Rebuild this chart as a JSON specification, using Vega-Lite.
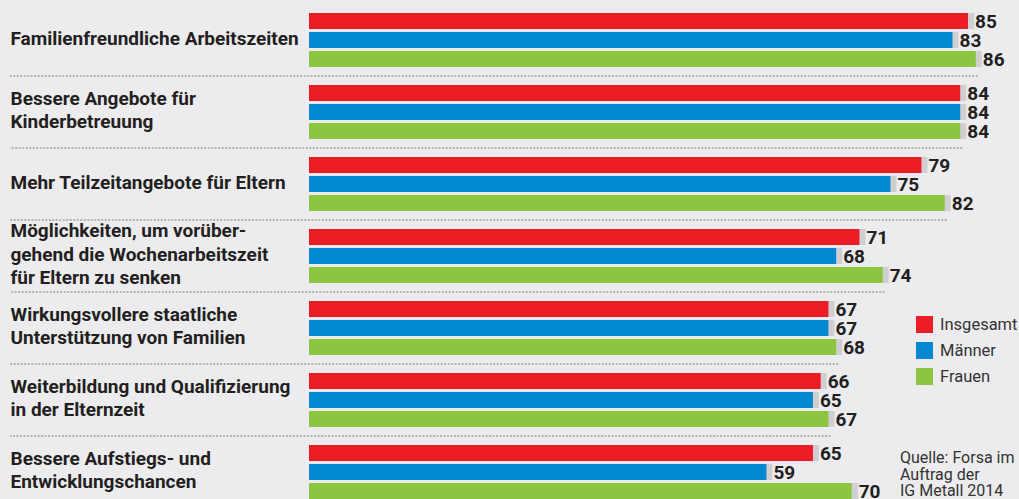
{
  "$schema": "https://vega.github.io/schema/vega-lite/v6.json",
  "autosize": "none",
  "padding": {"left": 309, "top": 4, "right": 0, "bottom": 0},
  "width": 710,
  "height": 495,
  "background": "#ececee",
  "config": {"view": {"stroke": null}, "font": "Roboto"},
  "datasets": {
    "main": [
      {"category": "Familienfreundliche Arbeitszeiten", "series": "Insgesamt", "value": 85},
      {"category": "Familienfreundliche Arbeitszeiten", "series": "Männer", "value": 83},
      {"category": "Familienfreundliche Arbeitszeiten", "series": "Frauen", "value": 86},
      {"category": "Bessere Angebote für|Kinderbetreuung", "series": "Insgesamt", "value": 84},
      {"category": "Bessere Angebote für|Kinderbetreuung", "series": "Männer", "value": 84},
      {"category": "Bessere Angebote für|Kinderbetreuung", "series": "Frauen", "value": 84},
      {"category": "Mehr Teilzeitangebote für Eltern", "series": "Insgesamt", "value": 79},
      {"category": "Mehr Teilzeitangebote für Eltern", "series": "Männer", "value": 75},
      {"category": "Mehr Teilzeitangebote für Eltern", "series": "Frauen", "value": 82},
      {"category": "Möglichkeiten, um vorüber-|gehend die Wochenarbeitszeit|für Eltern zu senken", "series": "Insgesamt", "value": 71},
      {"category": "Möglichkeiten, um vorüber-|gehend die Wochenarbeitszeit|für Eltern zu senken", "series": "Männer", "value": 68},
      {"category": "Möglichkeiten, um vorüber-|gehend die Wochenarbeitszeit|für Eltern zu senken", "series": "Frauen", "value": 74},
      {"category": "Wirkungsvollere staatliche|Unterstützung von Familien", "series": "Insgesamt", "value": 67},
      {"category": "Wirkungsvollere staatliche|Unterstützung von Familien", "series": "Männer", "value": 67},
      {"category": "Wirkungsvollere staatliche|Unterstützung von Familien", "series": "Frauen", "value": 68},
      {"category": "Weiterbildung und Qualifizierung|in der Elternzeit", "series": "Insgesamt", "value": 66},
      {"category": "Weiterbildung und Qualifizierung|in der Elternzeit", "series": "Männer", "value": 65},
      {"category": "Weiterbildung und Qualifizierung|in der Elternzeit", "series": "Frauen", "value": 67},
      {"category": "Bessere Aufstiegs- und|Entwicklungschancen", "series": "Insgesamt", "value": 65},
      {"category": "Bessere Aufstiegs- und|Entwicklungschancen", "series": "Männer", "value": 59},
      {"category": "Bessere Aufstiegs- und|Entwicklungschancen", "series": "Frauen", "value": 70}
    ],
    "note": [{"note": "Quelle: Forsa im\nAuftrag der\nIG Metall 2014", "category": "Bessere Aufstiegs- und|Entwicklungschancen", "pos": 76.23}]
  },
  "data": {"name": "main"},
  "layer": [
    {
      "transform": [{"aggregate": [{"op": "max", "field": "value", "as": "maxv"}], "groupby": ["category"]}],
      "mark": {"type": "rule", "xOffset": 2, "x2Offset": -299, "strokeDash": [2, 1.5], "strokeWidth": 2, "color": "#b3b3b5"},
      "encoding": {
        "y": {
          "field": "category", "type": "nominal", "bandPosition": 1,
          "scale": {
            "domain": ["Familienfreundliche Arbeitszeiten", "Bessere Angebote für|Kinderbetreuung", "Mehr Teilzeitangebote für Eltern", "Möglichkeiten, um vorüber-|gehend die Wochenarbeitszeit|für Eltern zu senken", "Wirkungsvollere staatliche|Unterstützung von Familien", "Weiterbildung und Qualifizierung|in der Elternzeit", "Bessere Aufstiegs- und|Entwicklungschancen"],
            "range": [0, 504], "paddingInner": 0, "paddingOuter": 0
          },
          "axis": {
            "title": null, "domain": false, "ticks": false, "grid": false,
            "labelPadding": 299, "labelAlign": "left", "labelBaseline": "middle",
            "labelFont": "Roboto", "labelFontSize": 19, "labelFontWeight": "bold", "labelColor": "#231f20",
            "labelLineHeight": 23.5, "labelLimit": 0,
            "labelOffset": {"expr": "-(length(split(datum.value, '|')) - 1) * 11.75 - 1.5"},
            "labelExpr": "split(datum.label, '|')"
          }
        },
        "x": {"field": "maxv", "type": "quantitative", "scale": {"domain": [0, 91.58], "nice": false, "zero": true}, "axis": null},
        "x2": {"datum": 0}
      }
    },
    {
      "mark": {"type": "bar", "color": "#cfcfd1", "xOffset": 6, "x2Offset": 6, "yOffset": 5, "y2Offset": 5},
      "encoding": {
        "y": {"field": "category", "type": "nominal"},
        "x": {"field": "value", "type": "quantitative", "stack": null},
        "yOffset": {"field": "series", "type": "nominal", "sort": ["Insgesamt", "Männer", "Frauen"], "scale": {"paddingInner": 0.1579, "paddingOuter": 0.4737}}
      }
    },
    {
      "mark": {"type": "bar"},
      "encoding": {
        "y": {"field": "category", "type": "nominal"},
        "x": {"field": "value", "type": "quantitative", "stack": null},
        "yOffset": {"field": "series", "type": "nominal", "sort": ["Insgesamt", "Männer", "Frauen"]},
        "color": {
          "field": "series", "type": "nominal",
          "scale": {"domain": ["Insgesamt", "Männer", "Frauen"], "range": ["#ee1d25", "#0088d0", "#8cc540"]},
          "legend": {
            "title": null, "orient": "none", "legendX": 607, "legendY": 312,
            "symbolType": "square", "symbolSize": 289, "symbolStrokeWidth": 0, "symbolOpacity": 1,
            "labelFont": "Roboto", "labelFontSize": 16.5, "labelColor": "#333333", "labelOffset": 7, "rowPadding": 9, "padding": 0, "labelLimit": 0
          }
        }
      }
    },
    {
      "mark": {"type": "text", "align": "left", "baseline": "middle", "dx": 7, "dy": 1, "font": "Roboto", "fontSize": 19, "fontWeight": "bold", "color": "#231f20"},
      "encoding": {
        "y": {"field": "category", "type": "nominal"},
        "x": {"field": "value", "type": "quantitative", "stack": null},
        "yOffset": {"field": "series", "type": "nominal", "sort": ["Insgesamt", "Männer", "Frauen"]},
        "text": {"field": "value", "type": "quantitative"}
      }
    },
    {
      "data": {"name": "note"},
      "mark": {"type": "text", "align": "left", "baseline": "alphabetic", "dy": -9, "font": "Roboto", "fontSize": 16, "lineHeight": 16.5, "lineBreak": "\n", "color": "#333333"},
      "encoding": {
        "x": {"field": "pos", "type": "quantitative"},
        "y": {"field": "category", "type": "nominal"},
        "text": {"field": "note", "type": "nominal"}
      }
    }
  ]
}
